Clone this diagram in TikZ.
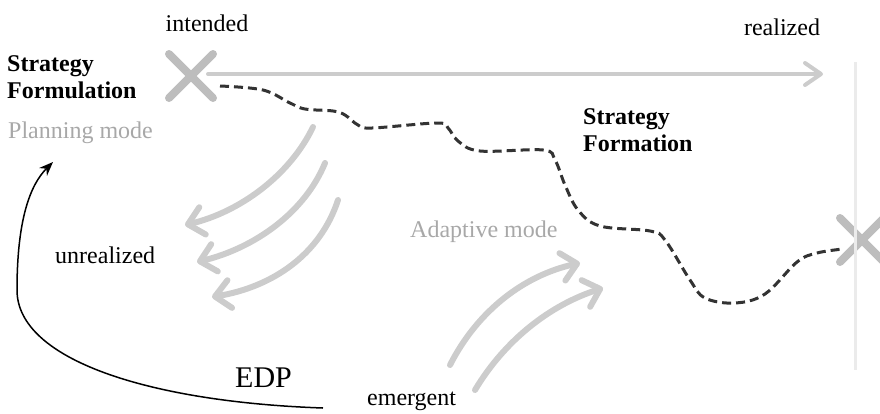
\documentclass[tikz,border=0pt]{standalone}
\usepackage{fontspec}
\setmainfont{Liberation Serif}[BoldFont={Liberation Serif Bold}]
\usetikzlibrary{arrows.meta,shapes.misc}

\definecolor{markgray}{gray}{0.74}
\definecolor{flowgray}{gray}{0.80}
\definecolor{modegray}{gray}{0.66}

\begin{document}
\begin{tikzpicture}[
  x=1pt, y=-1pt,
  lbl/.style={font=\fontsize{24}{26}\selectfont, inner sep=0pt, align=left},
  head/.style={lbl, font=\fontsize{24}{26.5}\selectfont\bfseries},
  mode/.style={lbl, text=modegray},
  crossmark/.style={cross out, draw=markgray, line width=8pt, line cap=round,
                    minimum size=36pt, inner sep=0pt},
  flow/.style={draw=flowgray, line width=6pt, line cap=round,
               -{Straight Barb[length=15pt,width=28pt,round]}},
  >=Stealth
]
  \useasboundingbox (0,0) rectangle (880,413);

  % labels
  \node[lbl, anchor=base] (intended) at (207,31) {intended};
  \node[lbl, anchor=base] (realized) at (782,35) {realized};
  \node[head, anchor=base west] (formul) at (7,98) {Strategy\\Formulation};
  \node[mode, anchor=base west] (planning) at (8,138) {Planning mode};
  \node[head, anchor=base west] (format) at (583,151) {Strategy\\Formation};
  \node[mode, anchor=base west] (adaptive) at (410,237) {Adaptive mode};
  \node[lbl, anchor=base west] (unreal) at (55,263) {unrealized};
  \node[lbl, anchor=base west] (emergent) at (367,405) {emergent};
  \node[lbl, anchor=base west, font=\fontsize{30}{32}\selectfont] (edp) at (235,387) {EDP};

  % start and end marks
  \node[crossmark] (xint) at (191,76) {};
  \node[crossmark] (xreal) at (862,240) {};
  \draw[black!8, line width=3pt] (855,62) -- (855,370);

  % intended -> realized
  \coordinate (intstart) at (208,74);
  \coordinate (realend) at (823,74);
  \draw[draw=flowgray, line width=4pt, line cap=round,
        -{Straight Barb[length=16pt,width=22pt,round]}] (intstart) -- (realend);

  % realized path
  \draw[black!80, line width=3pt, dash pattern=on 9pt off 5pt]
    plot[smooth, tension=0.6] coordinates {
      (220,86) (263,90) (290,103) (305,109) (333,111) (345,115) (358,125)
      (372,128) (437,123) (448,128) (458,141) (480,151) (543,150) (555,160)
      (565,185) (578,210) (600,226) (650,231) (665,240) (690,280) (705,298)
      (735,303) (765,294) (797,262) (817,253) (843,249)};

  % unrealized strategies
  \draw[flow] (313,127) .. controls (290,175) and (240,212) .. (185,225);
  \draw[flow] (325,163) .. controls (305,212) and (255,248) .. (197,262);
  \draw[flow] (338,200) .. controls (320,255) and (272,287) .. (212,297);

  % emergent strategies
  \draw[flow] (450,365) .. controls (478,310) and (525,275) .. (580,263);
  \draw[flow] (475,390) .. controls (505,340) and (550,305) .. (603,288);

  % EDP feedback
  \coordinate (edpstart) at (323,408);
  \coordinate (edpend) at (53,162);
  \draw[black, line width=1.5pt, -{Stealth[length=14pt,width=11pt]}]
    (edpstart) .. controls (150,402) and (17,360) .. (17,290)
               .. controls (17,220) and (30,185) .. (edpend);
\end{tikzpicture}
\end{document}
